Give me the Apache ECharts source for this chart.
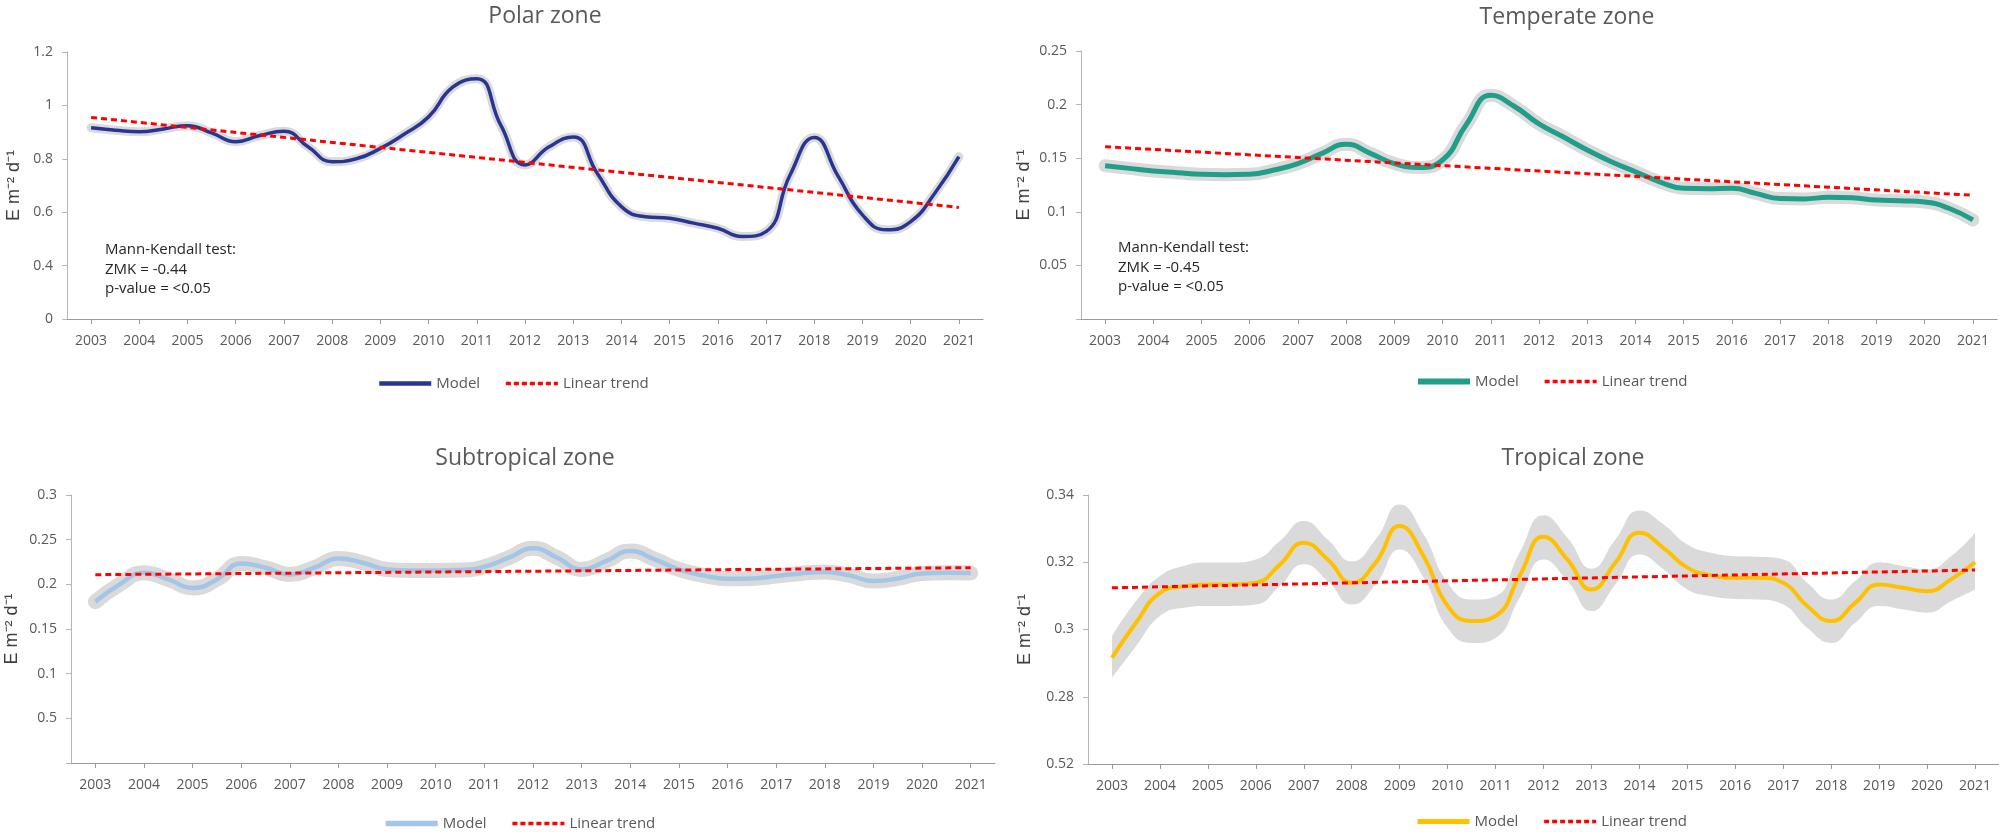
<!DOCTYPE html>
<html>
<head>
<meta charset="utf-8">
<script src="https://cdn.jsdelivr.net/npm/echarts@6/dist/echarts.min.js"></script>
<style>
html,body{margin:0;padding:0;background:#fff;}
#main{width:1999px;height:832px;}
</style>
</head>
<body>
<div id="main"></div>
<script>
// years shown on the x axis
var years=[2003,2004,2005,2006,2007,2008,2009,2010,2011,2012,2013,2014,2015,2016,2017,2018,2019,2020,2021];
// half-year positions the curves were read at
var sampleX=[2003,2003.5,2004,2004.5,2005,2005.5,2006,2006.5,2007,2007.5,2008,2008.5,2009,2009.5,2010,2010.5,2011,2011.5,2012,2012.5,
	2013,2013.5,2014,2014.5,2015,2015.5,2016,2016.5,2017,2017.5,2018,2018.5,2019,2019.5,2020,2020.5,2021];
var trendX=[2003,2021];

// Polar zone
var polarModel=[0.916,0.907,0.901,0.912,0.924,0.897,0.864,0.887,0.903,0.845,0.789,0.800,0.839,0.893,0.957,1.068,1.100,0.925,0.777,0.845,
	0.882,0.745,0.621,0.583,0.577,0.559,0.540,0.509,0.527,0.740,0.880,0.733,0.590,0.534,0.565,0.671,0.808];
var polarTrend=[0.955,0.618];
var polarTicks=['0','0.4','0.6','0.8','1','1.2'];

// Temperate zone
var temperateModel=[0.143,0.1405,0.138,0.1365,0.135,0.1346,0.135,0.139,0.145,0.1545,0.163,0.1545,0.145,0.1414,0.1483,0.182,0.2087,0.198,0.182,0.170,
	0.1576,0.1467,0.1374,0.128,0.122,0.1216,0.122,0.1172,0.1123,0.112,0.1135,0.113,0.111,0.1104,0.1092,0.1033,0.0924];
var temperateTrend=[0.1607,0.1154];
var temperateTicks=['','0.05','0.1','0.15','0.2','0.25'];

// Subtropical zone
var subtropicalModel=[0.1805,0.200,0.213,0.2055,0.196,0.2055,0.2234,0.2186,0.2111,0.2186,0.229,0.2242,0.2167,0.2156,0.2156,0.216,0.2197,0.2298,0.2403,0.2298,
	0.2167,0.226,0.2373,0.228,0.2167,0.21,0.2063,0.2066,0.2093,0.2122,0.2137,0.21,0.2037,0.2066,0.2122,0.213,0.2126];
var subtropicalTrend=[0.2108,0.2186];
var subtropicalTicks=['','0.5','0.1','0.15','0.2','0.25','0.3'];

// Tropical zone
var tropicalModel=[0.2916,0.302,0.3109,0.3129,0.3134,0.3134,0.3139,0.3193,0.3258,0.3208,0.3139,0.3199,0.3308,0.3218,0.307,0.3025,0.304,0.3159,0.3276,0.3208,
	0.3119,0.3199,0.3288,0.3243,0.3184,0.3161,0.3154,0.3154,0.3139,0.307,0.3025,0.3079,0.3134,0.3124,0.3114,0.3149,0.32];
var tropicalUpper=[0.298,0.3084,0.3159,0.3189,0.3199,0.3199,0.3208,0.3263,0.3323,0.3268,0.3203,0.3268,0.3372,0.3283,0.3139,0.3089,0.3099,0.3228,0.334,0.3273,
	0.3181,0.3268,0.3354,0.3313,0.3253,0.3228,0.3218,0.3216,0.3208,0.3139,0.3089,0.3144,0.3199,0.3189,0.3179,0.3218,0.3288];
var tropicalLower=[0.2856,0.295,0.304,0.3065,0.307,0.307,0.3074,0.3129,0.3194,0.3144,0.3074,0.3134,0.3238,0.3154,0.3005,0.296,0.2975,0.3094,0.3208,0.3144,
	0.3055,0.3134,0.3223,0.3179,0.3119,0.3099,0.3091,0.3089,0.3074,0.3005,0.296,0.302,0.307,0.306,0.305,0.3084,0.3119];
var tropicalTrend=[0.3124,0.3177];
var tropicalTicks=['0.52','0.28','0.3','0.32','0.34'];

var dom=document.getElementById('main');
var myChart=echarts.init(dom);

var txtColor='#595959';
var fontName='Open Sans';
var bandGray='#dadada';
var trendRed='#ff0000';

function pairs(xs,ys){
	var out=[];
	for(var i=0;i<ys.length;i++){ out.push([xs[i],ys[i]]); }
	return out;
}

var grids=[
	{left:67,right:1016,top:52,bottom:513},
	{left:1081,right:2,top:51,bottom:513},
	{left:71,right:1004,top:495,bottom:69},
	{left:1088,right:0,top:495,bottom:68}
];

var zones=[
	{title:'Polar zone',titleX:540,titleY:0,min:0.2,max:1.2,step:0.2,ticks:polarTicks,color:'#283593',width:3.5,halo:9,nameGap:44,
		model:polarModel,trend:polarTrend,legendX:377,legendY:376,mk:['ZMK = -0.44'],mkX:100,mkY:235},
	{title:'Temperate zone',titleX:1562,titleY:1,min:0,max:0.25,step:0.05,ticks:temperateTicks,color:'#1f9e89',width:5,halo:13,nameGap:48,
		model:temperateModel,trend:temperateTrend,legendX:1415,legendY:374,mk:['ZMK = -0.45'],mkX:1113,mkY:233},
	{title:'Subtropical zone',titleX:520,titleY:442,min:0,max:0.3,step:0.05,ticks:subtropicalTicks,color:'#a4c6e6',width:4.5,halo:15,nameGap:50,
		model:subtropicalModel,trend:subtropicalTrend,legendX:383,legendY:816},
	{title:'Tropical zone',titleX:1568,titleY:442,min:0.26,max:0.34,step:0.02,ticks:tropicalTicks,color:'#ffc000',width:4,halo:0,nameGap:54,
		model:tropicalModel,trend:tropicalTrend,legendX:1415,legendY:814,upper:tropicalUpper,lower:tropicalLower}
];

var titles=[],xAxes=[],yAxes=[],series=[],legends=[];

zones.forEach(function(z,k){
	titles.push({
		text:z.title,left:z.titleX,top:z.titleY,textAlign:'center',
		textStyle:{color:txtColor,fontFamily:fontName,fontSize:23,fontWeight:'normal'}
	});
	if(z.mk){
		titles.push({
			text:'Mann-Kendall test:\n'+z.mk[0]+'\np-value = <0.05',left:z.mkX,top:z.mkY,
			textStyle:{color:'#262626',fontFamily:fontName,fontSize:15,fontWeight:'normal',lineHeight:19.5}
		});
	}
	xAxes.push({
		type:'value',gridIndex:k,min:2002.5,max:2021.5,z:10,
		splitLine:{show:false},
		axisLine:{lineStyle:{color:'#9a9a9a',width:1}},
		axisTick:{show:true,customValues:years,length:5,lineStyle:{color:'#9a9a9a'}},
		axisLabel:{customValues:years,color:txtColor,fontFamily:fontName,fontSize:14,margin:15,
			formatter:function(v){return String(v);}}
	});
	yAxes.push({
		type:'value',gridIndex:k,min:z.min,max:z.max,interval:z.step,z:10,
		name:'E m\u207B\u00B2 d\u207B\u00B9',nameLocation:'middle',nameGap:z.nameGap,
		nameTextStyle:{color:'#404040',fontFamily:'Liberation Sans',fontSize:18},
		splitLine:{show:false},
		axisLine:{show:true,lineStyle:{color:'#b5b5b5',width:1}},
		axisTick:{show:true,length:5,lineStyle:{color:'#b5b5b5'}},
		axisLabel:{color:txtColor,fontFamily:fontName,fontSize:14,margin:14,
			formatter:(function(t){return function(v,i){return t[i]!==undefined?t[i]:'';};})(z.ticks)}
	});
	if(z.halo){
		series.push({
			name:'halo'+k,type:'line',xAxisIndex:k,yAxisIndex:k,smooth:0.5,showSymbol:false,symbol:'none',silent:true,
			lineStyle:{color:bandGray,width:z.halo,cap:'round',join:'round'},
			data:pairs(sampleX,z.model),z:1
		});
	}
	if(z.upper){
		// grey band: fill under the upper edge, then mask under the lower edge
		series.push({
			name:'bandHigh'+k,type:'line',xAxisIndex:k,yAxisIndex:k,smooth:0.5,showSymbol:false,symbol:'none',silent:true,
			lineStyle:{width:0,opacity:0},areaStyle:{color:bandGray,opacity:1,origin:'start'},data:pairs(sampleX,z.upper),z:1
		});
		series.push({
			name:'bandLow'+k,type:'line',xAxisIndex:k,yAxisIndex:k,smooth:0.5,showSymbol:false,symbol:'none',silent:true,
			lineStyle:{width:0,opacity:0},areaStyle:{color:'#ffffff',opacity:1,origin:'start'},data:pairs(sampleX,z.lower),z:2
		});
	}
	series.push({
		name:'Model '+k,type:'line',xAxisIndex:k,yAxisIndex:k,smooth:0.5,showSymbol:false,symbol:'none',
		lineStyle:{color:z.color,width:z.width},itemStyle:{color:z.color},
		data:pairs(sampleX,z.model),z:3
	});
	series.push({
		name:'Linear trend '+k,type:'line',xAxisIndex:k,yAxisIndex:k,showSymbol:false,symbol:'none',
		lineStyle:{color:trendRed,width:3,type:[6,4]},itemStyle:{color:trendRed},
		data:pairs(trendX,z.trend),z:4
	});
	legends.push({
		left:z.legendX,top:z.legendY,padding:0,itemWidth:52,itemHeight:14,itemGap:24,
		itemStyle:{opacity:0},
		data:[
			{name:'Model '+k,lineStyle:{width:z.width+1}},
			{name:'Linear trend '+k,lineStyle:{width:3.5,type:[5,3]}}
		],
		formatter:function(name){return name.indexOf('Model')===0?'Model':'Linear trend';},
		textStyle:{color:txtColor,fontFamily:fontName,fontSize:15}
	});
});

var option={
	backgroundColor:'#fff',
	animation:false,
	title:titles,
	legend:legends,
	grid:grids,
	xAxis:xAxes,
	yAxis:yAxes,
	series:series
};
myChart.setOption(option);
</script>
</body>
</html>
